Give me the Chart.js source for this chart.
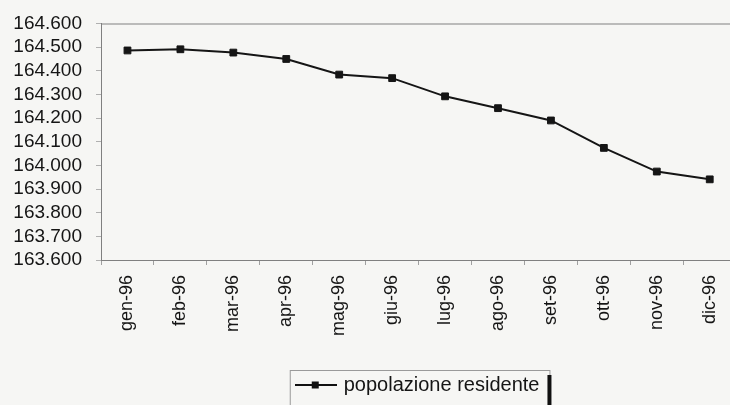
<!DOCTYPE html>
<html>
<head>
<meta charset="utf-8">
<script src="https://cdn.jsdelivr.net/npm/chart.js@4/dist/chart.umd.min.js"></script>
<style>
  html, body { margin: 0; padding: 0; background: #f6f6f4; overflow: hidden; }
  #wrap { width: 742px; height: 405px; }
  canvas { display: block; }
</style>
</head>
<body>
<div id="wrap"><canvas id="c" width="742" height="405"></canvas></div>
<script>
const categories = ['gen-96','feb-96','mar-96','apr-96','mag-96','giu-96','lug-96','ago-96','set-96','ott-96','nov-96','dic-96'];
const popolazioneResidente = [164486,164491,164477,164450,164384,164369,164292,164242,164190,164074,163974,163941];
const seriesName = 'popolazione residente';
const yMin = 163600, yMax = 164600, yStep = 100;

function fmtIt(v) {
  return String(Math.round(v)).replace(/\B(?=(\d{3})+(?!\d))/g, '.');
}

// legend symbol: line with square marker
const sym = document.createElement('canvas');
sym.width = 42; sym.height = 10;
(function(){
  const g = sym.getContext('2d');
  g.strokeStyle = '#111'; g.lineWidth = 2;
  g.beginPath(); g.moveTo(0, 5); g.lineTo(42, 5); g.stroke();
  g.fillStyle = '#111'; g.fillRect(17, 1.5, 7, 7);
})();

const framePlugin = {
  id: 'frame',
  beforeDatasetsDraw(chart) {
    const a = chart.chartArea, ctx = chart.ctx;
    ctx.save();
    ctx.strokeStyle = '#808080'; ctx.lineWidth = 1;
    ctx.strokeRect(a.left + 0.5, a.top + 0.5, a.right - a.left, a.bottom - a.top);
    ctx.restore();
  },
  afterDraw(chart) {
    const lg = chart.legend;
    if (!lg || !lg.legendHitBoxes || !lg.legendHitBoxes.length) return;
    const hb = lg.legendHitBoxes[0];
    const ctx = chart.ctx;
    const x0 = hb.left - 8, x1 = hb.left + hb.width + 10;
    const y0 = lg.top + 5;
    ctx.save();
    ctx.strokeStyle = '#9a9a9a'; ctx.lineWidth = 1;
    ctx.strokeRect(x0 + 0.5, y0 + 0.5, x1 - x0, 60);
    ctx.fillStyle = '#111';
    ctx.fillRect(x1 - 2, y0 + 5, 4, 60);
    ctx.restore();
  }
};

new Chart(document.getElementById('c'), {
  type: 'line',
  data: {
    labels: categories,
    datasets: [{
      label: seriesName,
      data: popolazioneResidente,
      borderColor: '#151515',
      backgroundColor: '#151515',
      borderWidth: 2,
      pointStyle: 'rect',
      pointRadius: 4.8,
      pointBorderWidth: 1,
      pointBackgroundColor: '#151515',
      pointBorderColor: '#151515',
      tension: 0,
      fill: false
    }]
  },
  options: {
    responsive: false,
    animation: false,
    events: [],
    layout: { padding: { left: 12, top: 21, right: 2, bottom: 0 } },
    plugins: {
      tooltip: { enabled: false },
      legend: {
        position: 'bottom',
        fullSize: false,
        labels: {
          usePointStyle: true,
          pointStyle: sym,
          pointStyleWidth: 36,
          boxHeight: 10,
          padding: 10,
          color: '#151515',
          font: { family: 'Liberation Sans, Arial, sans-serif', size: 20 },
          generateLabels(chart) {
            return chart.data.datasets.map((d, i) => ({
              text: d.label, pointStyle: sym, datasetIndex: i,
              fillStyle: 'transparent', strokeStyle: 'transparent', lineWidth: 0, fontColor: '#151515'
            }));
          }
        }
      }
    },
    scales: {
      x: {
        type: 'category',
        offset: true,
        border: { display: true, color: '#808080' },
        grid: { display: true, drawOnChartArea: false, offset: true, tickLength: 5, color: '#a0a0a0' },
        ticks: {
          minRotation: 90, maxRotation: 90, padding: 10, color: '#151515', autoSkip: false,
          font: { family: 'Liberation Sans, Arial, sans-serif', size: 18 }
        },
        afterFit(s) { s.height = 105; }
      },
      y: {
        min: yMin, max: yMax,
        border: { display: true, color: '#808080' },
        grid: { display: true, drawOnChartArea: false, tickLength: 5, color: '#b0b0b0' },
        ticks: {
          stepSize: yStep, padding: 14, color: '#151515', autoSkip: false,
          font: { family: 'Liberation Sans, Arial, sans-serif', size: 19, lineHeight: 1 },
          callback: v => fmtIt(v)
        },
        afterFit(s) { s.width = 89; }
      }
    }
  },
  plugins: [framePlugin]
});
</script>
</body>
</html>
